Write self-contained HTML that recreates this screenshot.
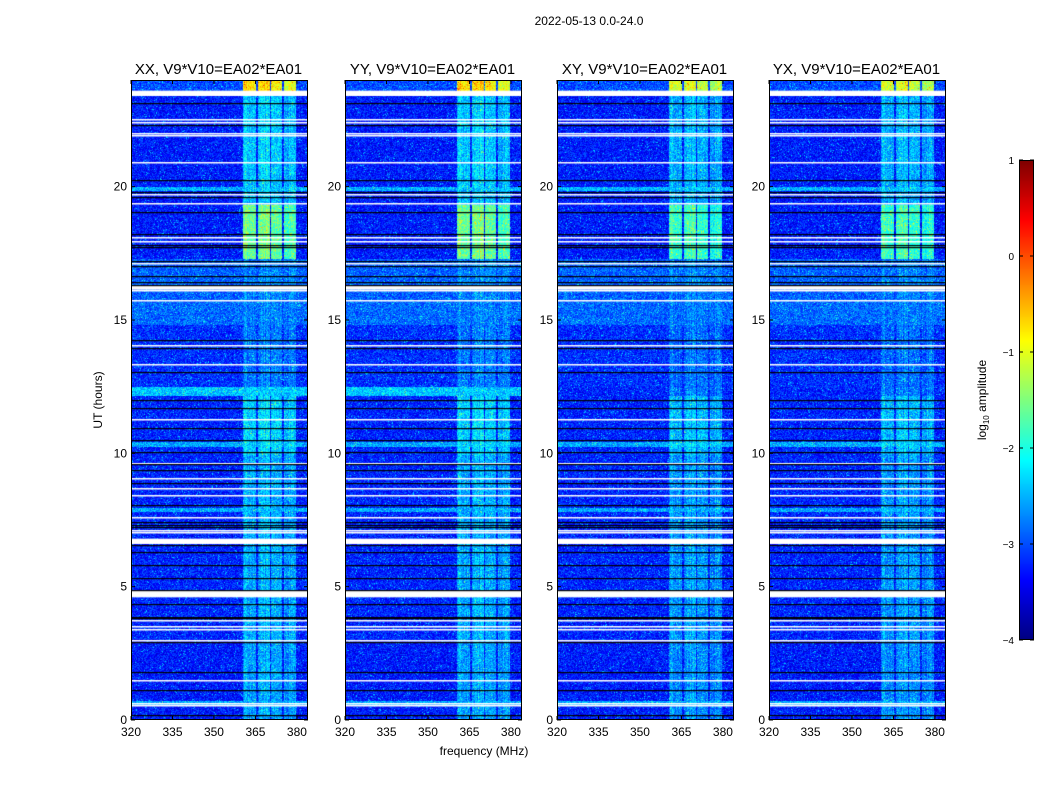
<!DOCTYPE html>
<html><head><meta charset="utf-8">
<style>
body{margin:0;background:#fff;font-family:"Liberation Sans",sans-serif;}
#wrap{position:relative;width:1050px;height:800px;overflow:hidden;background:#fff;}
.t{position:absolute;white-space:nowrap;color:#000;}
canvas{position:absolute;}
</style></head>
<body>
<div id="wrap">
<div class="t" style="left:0;width:1178px;top:14px;font-size:12px;text-align:center">2022-05-13 0.0-24.0</div>
<svg id="svg" width="1050" height="800" style="position:absolute;left:0;top:0"></svg>
</div>
<script>
// ---- data ----
const panelTitles = ["XX, V9*V10=EA02*EA01","YY, V9*V10=EA02*EA01","XY, V9*V10=EA02*EA01","YX, V9*V10=EA02*EA01"];
const panelBandScale = [1.0, 1.0, 0.85, 0.85];
const panelStripOn = [1, 1, 0, 0];
const xTicks = [320,335,350,365,380];
const yTicks = [0,5,10,15,20];
const cbTicks = [1,0,-1,-2,-3,-4];
// time segments (hours upper edge), background log amplitude, RFI band log amplitude
const segTop  = [3.0, 9.95, 12.15, 12.5, 14.8, 15.75, 17.3, 19.3, 19.85, 20.0, 23.4, 24.0];
const segBg   = [-3.25,-3.2,-3.2,-2.4,-3.15,-2.85,-2.9,-3.25,-3.25,-2.5,-3.25,-3.0];
const segBand = [-2.55,-2.5,-2.3,-2.7,-2.75,-2.75,-2.7,-1.55,-2.4,-2.4,-2.35,-0.7];
const stripHours = [10.33, 7.88, 0.64];
const stripLevel = [-2.55, -2.55, -2.55];
const bandLo = [360.4, 365.8, 370.5, 375.2];
const bandHi = [365.1, 370.2, 374.5, 379.6];
const bandStrength = [1.0, 1.0, 0.92, 0.86];
const whiteLines = [22.53,22.42,22.01,21.93,20.92,19.72,19.38,18.11,17.96,17.14,16.2,16.12,15.75,14.06,13.35,11.29,9.64,9.07,8.7,8.44,7.61,7.12,7.05,3.75,3.52,3.41,3.0,1.5,0.64,0.56];
const whiteBlockLo = [23.4, 6.6, 4.6, 16.15];
const whiteBlockHi = [23.6, 6.8, 4.85, 16.3];
const blackLines = [23.13,22.31,20.25,19.8,19.61,19.05,18.22,17.81,17.74,17.21,17.02,16.65,16.42,16.31,14.25,13.95,13.05,12.0,11.7,10.95,10.5,10.05,9.6,9.37,8.89,8.06,7.42,7.31,7.24,6.56,6.3,5.81,5.32,4.87,4.35,3.86,3.82,2.92,1.8,1.12,0.19];

// ---- layout ----
const panelLeft=[131,345,557,769], PW=177, PT=80, PB=720;
const fMin=320, fMax=384, hMin=0, hMax=24, vMin=-4, vMax=1;
const xs=(f,i)=>panelLeft[i]+(f-fMin)/(fMax-fMin)*PW;
const ys=h=>PB-(h-hMin)/(hMax-hMin)*(PB-PT);
function jet(t){t=Math.max(0,Math.min(1,t));
  const r=Math.min(Math.max(Math.min(4*t-1.5,-4*t+4.5),0),1);
  const g=Math.min(Math.max(Math.min(4*t-0.5,-4*t+3.5),0),1);
  const b=Math.min(Math.max(Math.min(4*t+0.5,-4*t+2.5),0),1);
  return [r*255|0,g*255|0,b*255|0];}
function hash(x,y){let n=x*374761393+y*668265263;n=(n^(n>>>13))*1274126177;n=n^(n>>>16);return ((n>>>0)%1000)/1000-0.5;}
const wrap=document.getElementById('wrap');
const svg=document.getElementById('svg');
const NS="http://www.w3.org/2000/svg";
function txt(x,y,s,size,anchor,name,rot){const e=document.createElementNS(NS,'text');
  e.setAttribute('x',x);e.setAttribute('y',y);e.setAttribute('font-size',size);
  e.setAttribute('text-anchor',anchor||'middle');e.setAttribute('font-family','Liberation Sans, sans-serif');
  if(rot)e.setAttribute('transform','rotate(-90 '+x+' '+y+')');
  e.textContent=s;
  
  
  svg.appendChild(e);return e;}
function line(x1,y1,x2,y2,name){const e=document.createElementNS(NS,'line');
  e.setAttribute('x1',x1);e.setAttribute('y1',y1);e.setAttribute('x2',x2);e.setAttribute('y2',y2);
  e.setAttribute('stroke','#000');e.setAttribute('stroke-width','1');
  
  
  svg.appendChild(e);}

for(let p=0;p<4;p++){
  const cv=document.createElement('canvas');
  cv.width=PW;cv.height=PB-PT;cv.style.left=panelLeft[p]+'px';cv.style.top=PT+'px';
  
  
  wrap.insertBefore(cv,svg);
  const ctx=cv.getContext('2d');const img=ctx.createImageData(PW,PB-PT);
  for(let py=0;py<PB-PT;py++){
    const h=hMax-(py+0.5)/(PB-PT)*(hMax-hMin);
    let si=0;while(si<segTop.length-1&&h>segTop[si])si++;
    let bg=segBg[si];
    if(si===3&&!panelStripOn[p]) bg=segBg[2];
    for(let k=0;k<stripHours.length;k++) if(Math.abs(h-stripHours[k])<0.08) bg=stripLevel[k];
    for(let px=0;px<PW;px++){
      const f=fMin+(px+0.5)/PW*(fMax-fMin);
      let v=bg;
      for(let b=0;b<bandLo.length;b++){
        if(f>=bandLo[b]&&f<=bandHi[b]){
          const bv=bg+(segBand[si]-bg)*bandStrength[b]*panelBandScale[p];
          v=Math.max(v,bv+0.3*hash(px*7+b,3));
        }
      }
      const n=hash(px+p*1000,py);
      v+=0.75*n+(n>0.47?0.5:0);
      const c=jet((v-vMin)/(vMax-vMin));const o=(py*PW+px)*4;
      img.data[o]=c[0];img.data[o+1]=c[1];img.data[o+2]=c[2];img.data[o+3]=255;
    }
  }
  ctx.putImageData(img,0,0);
  ctx.fillStyle='#fff';
  for(let k=0;k<whiteBlockLo.length;k++){const a=ys(whiteBlockHi[k])-PT,b=ys(whiteBlockLo[k])-PT;ctx.fillRect(0,a,PW,b-a);}
  whiteLines.forEach(h=>ctx.fillRect(0,Math.round(ys(h)-PT),PW,1.5));
  ctx.fillStyle='#000';
  blackLines.forEach(h=>ctx.fillRect(0,Math.round(ys(h)-PT),PW,1.2));
  const fr=document.createElementNS(NS,'rect');
  fr.setAttribute('x',panelLeft[p]+0.5);fr.setAttribute('y',PT+0.5);fr.setAttribute('width',PW-1);fr.setAttribute('height',PB-PT-1);
  fr.setAttribute('fill','none');fr.setAttribute('stroke','#000');
  
  
  svg.appendChild(fr);
  txt(panelLeft[p]+PW/2-1,74,panelTitles[p],15,'middle','panel-title');
  xTicks.forEach(t=>{const x=xs(t,p);line(x,PB,x,PB-4,'x-tick');line(x,PT,x,PT+4,'x-tick');txt(x,736,String(t),12,'middle','x-tick-label');});
  yTicks.forEach(t=>{const y=ys(t);line(panelLeft[p],y,panelLeft[p]+4,y,'y-tick');line(panelLeft[p]+PW,y,panelLeft[p]+PW-4,y,'y-tick');txt(panelLeft[p]-4,y+4,String(t),12,'end','y-tick-label');});
}
txt(484,755,'frequency (MHz)',12,'middle','x-axis-title');
txt(102,400,'UT (hours)',12,'middle','y-axis-title',true);

const cbX=1019,cbW=15,cbT=160,cbB=640;
const cb=document.createElement('canvas');cb.width=cbW;cb.height=cbB-cbT;
cb.style.left=cbX+'px';cb.style.top=cbT+'px';


wrap.insertBefore(cb,svg);
const cctx=cb.getContext('2d');
for(let y=0;y<cbB-cbT;y++){const c=jet(1-y/(cbB-cbT));cctx.fillStyle='rgb('+c+')';cctx.fillRect(0,y,cbW,1);}
const cr=document.createElementNS(NS,'rect');
cr.setAttribute('x',cbX+0.5);cr.setAttribute('y',cbT+0.5);cr.setAttribute('width',cbW-1);cr.setAttribute('height',cbB-cbT-1);
cr.setAttribute('fill','none');cr.setAttribute('stroke','#000');


svg.appendChild(cr);
cbTicks.forEach(t=>{const y=cbB-(t-vMin)/(vMax-vMin)*(cbB-cbT);
  line(cbX,y,cbX+4,y,'colorbar-tick');line(cbX+cbW-4,y,cbX+cbW,y,'colorbar-tick');
  txt(1014,y+4,t<0?'\u2212'+(-t):String(t),10,'end','colorbar-tick-label');});
const lab=txt(986,400,'',12,'middle','colorbar-label',true);
lab.innerHTML='log<tspan font-size="8" dy="3">10</tspan><tspan dy="-3"> amplitude</tspan>';
</script>
</body></html>
